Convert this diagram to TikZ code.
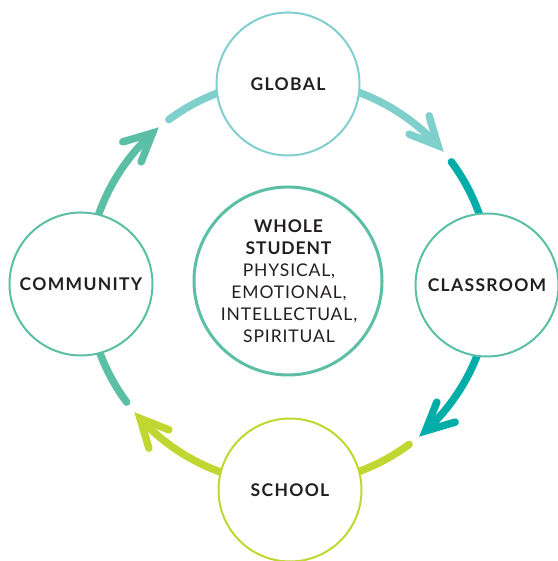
\documentclass[tikz,border=0pt]{standalone}
\usepackage{fontspec}
\setmainfont{Lato}
\usetikzlibrary{calc}
\definecolor{cglobal}{HTML}{7FCFCD}
\definecolor{cclass}{HTML}{00ADA9}
\definecolor{cschool}{HTML}{BFD730}
\definecolor{ccomm}{HTML}{5BBFA5}
\definecolor{ctext}{HTML}{231F20}
\begin{document}
\begin{tikzpicture}[x=1pt,y=1pt,
  ringarc/.style={line width=7.5pt, line cap=round},
  chev/.style={line width=7.5pt, line cap=round, line join=miter, miter limit=10},
  place/.style={circle, draw, fill=white, line width=2pt, minimum size=143pt, inner sep=0pt,
    font=\bfseries\fontsize{17.5}{20}\selectfont\addfontfeature{LetterSpace=7.5}, text=ctext},
]
\useasboundingbox (0,0) rectangle (557,561);
\coordinate (O) at (289,279);
\def\R{202}
% ring arcs and arrowheads
\foreach \A/\oc/\nc in {90/cglobal/cclass, 0/cclass/cschool, -90/cschool/ccomm, 180/ccomm/cglobal}{
  \pgfmathsetmacro\sa{\A-12}
  \pgfmathsetmacro\va{\A-47.5}
  \pgfmathsetmacro\ma{\va+90+26}
  \pgfmathsetmacro\mb{\va+90-26}
  \pgfmathsetmacro\ia{\A-53.5}
  \pgfmathsetmacro\ib{\A-84}
  \coordinate (s) at ($(O)+(\sa:\R)$);
  \coordinate (v) at ($(O)+(\va:\R)$);
  \coordinate (i) at ($(O)+(\ia:\R)$);
  \draw[ringarc,\oc] (s) arc[start angle=\sa, end angle=\va, radius=\R];
  \draw[chev,\oc] ($(v)+(\ma:31)$) -- (v) -- ($(v)+(\mb:31)$);
  \draw[ringarc,\nc] (i) arc[start angle=\ia, end angle=\ib, radius=\R];
}
% nodes
\node[place, draw=cglobal] (global) at (288,477) {GLOBAL};
\node[place, draw=ccomm] (classroom) at (487,276) {CLASSROOM};
\node[place, draw=cschool] (school) at (290,71) {SCHOOL};
\node[place, draw=ccomm] (community) at (81,277) {COMMUNITY};
\node[circle, draw=ccomm, line width=3pt, minimum size=188pt, inner sep=0pt] (whole) at (288,280) {};
\node[align=center, text=ctext, font=\fontsize{17.5}{22}\selectfont\addfontfeature{LetterSpace=5}] (wtext) at (289,280)
  {\textbf{WHOLE}\\\textbf{STUDENT}\\PHYSICAL,\\EMOTIONAL,\\INTELLECTUAL,\\SPIRITUAL};
\end{tikzpicture}
\end{document}
